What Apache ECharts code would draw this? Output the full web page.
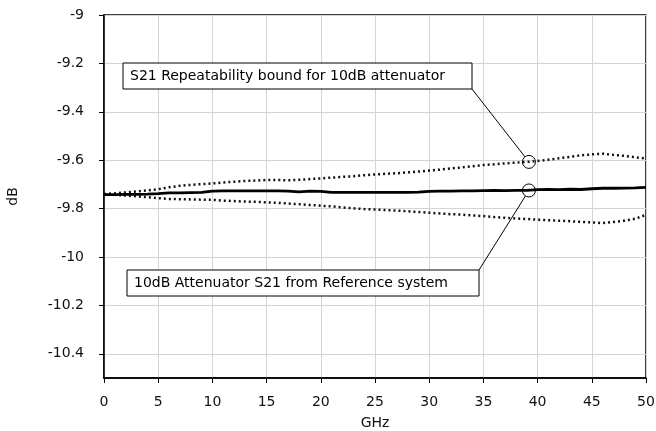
<!DOCTYPE html>
<html><head><meta charset="utf-8">
<script src="https://cdn.jsdelivr.net/npm/echarts@6/dist/echarts.min.js"></script>
<style>html,body{margin:0;padding:0;background:#fff}#c{width:656px;height:431px}</style>
</head><body><div id="c"></div>
<script>
const freqGHz = [0,1,2,3,4,5,6,7,8,9,10,11,12,13,14,15,16,17,18,19,20,21,22,23,24,25,26,27,28,29,30,31,32,33,34,35,36,37,38,39,40,41,42,43,44,45,46,47,48,49,50];
const refS21 = [-9.742,-9.742,-9.741,-9.741,-9.740,-9.738,-9.735,-9.735,-9.734,-9.733,-9.728,-9.727,-9.727,-9.727,-9.727,-9.727,-9.727,-9.728,-9.731,-9.728,-9.729,-9.733,-9.733,-9.733,-9.733,-9.733,-9.733,-9.733,-9.733,-9.732,-9.729,-9.728,-9.728,-9.727,-9.727,-9.726,-9.725,-9.726,-9.725,-9.725,-9.722,-9.721,-9.722,-9.720,-9.721,-9.718,-9.716,-9.716,-9.715,-9.714,-9.712];
const upperBound = [-9.740,-9.737,-9.733,-9.729,-9.725,-9.720,-9.712,-9.706,-9.702,-9.699,-9.696,-9.692,-9.689,-9.686,-9.684,-9.682,-9.682,-9.683,-9.681,-9.678,-9.675,-9.672,-9.669,-9.666,-9.662,-9.659,-9.656,-9.654,-9.650,-9.647,-9.643,-9.639,-9.634,-9.630,-9.625,-9.620,-9.617,-9.613,-9.610,-9.607,-9.603,-9.598,-9.592,-9.586,-9.580,-9.576,-9.573,-9.578,-9.582,-9.588,-9.593];
const lowerBound = [-9.740,-9.743,-9.746,-9.749,-9.753,-9.757,-9.760,-9.761,-9.762,-9.763,-9.764,-9.767,-9.769,-9.771,-9.772,-9.774,-9.776,-9.779,-9.782,-9.785,-9.788,-9.791,-9.795,-9.799,-9.802,-9.804,-9.806,-9.808,-9.811,-9.814,-9.817,-9.820,-9.823,-9.825,-9.828,-9.831,-9.835,-9.838,-9.841,-9.843,-9.846,-9.848,-9.850,-9.852,-9.855,-9.857,-9.860,-9.855,-9.850,-9.842,-9.826];
const xTicks = [0,5,10,15,20,25,30,35,40,45,50];
const yTicks = [-9,-9.2,-9.4,-9.6,-9.8,-10,-10.2,-10.4];
const annotX = 39.2;
const annotBoundY = -9.607;
const annotRefY = -9.725;
const label1 = 'S21 Repeatability bound for 10dB attenuator';
const label2 = '10dB Attenuator S21 from Reference system';

const FONT = '"DejaVu Sans", sans-serif';
const chart = echarts.init(document.getElementById('c'), null, {renderer:'canvas'});
const pair = (ys) => freqGHz.map((f,i)=>[f, ys[i]]);
const option = {
  animation:false,
  backgroundColor:'#fff',
  grid:{left:104,right:10,top:15,bottom:53,outerBoundsMode:'none',containLabel:false,show:true,borderColor:'#000',borderWidth:1.5,backgroundColor:'transparent'},
  xAxis:{type:'value',min:0,max:50,interval:5,
    name:'GHz',nameLocation:'middle',nameGap:38,
    nameTextStyle:{fontFamily:FONT,fontSize:14,color:'#111'},
    axisLine:{show:true,lineStyle:{color:'#000',width:1.5}},
    axisTick:{show:true,length:5,lineStyle:{color:'#000'}},
    axisLabel:{fontFamily:FONT,fontSize:14,color:'#111',margin:17,
      customValues:xTicks},
    splitLine:{show:true,lineStyle:{color:'#d4d4d4',width:1}}},
  yAxis:{type:'value',min:-10.5,max:-9,interval:0.2,
    name:'dB',nameLocation:'middle',nameGap:84,
    nameTextStyle:{fontFamily:FONT,fontSize:14,color:'#111'},
    axisLine:{show:true,lineStyle:{color:'#000',width:1.5}},
    axisTick:{show:true,length:5,lineStyle:{color:'#000'},customValues:yTicks},
    axisLabel:{fontFamily:FONT,fontSize:14,color:'#111',margin:20,customValues:yTicks,
      formatter:(v)=>String(Math.round(v*10)/10)},
    splitLine:{show:true,lineStyle:{color:'#d4d4d4',width:1}}},
  series:[
    {type:'line',name:'upper',data:pair(upperBound),symbol:'none',
      lineStyle:{color:'#111',width:2.5,type:[2,3]}},
    {type:'line',name:'lower',data:pair(lowerBound),symbol:'none',
      lineStyle:{color:'#111',width:2.5,type:[2,3]}},
    {type:'line',name:'ref',data:pair(refS21),symbol:'none',
      lineStyle:{color:'#000',width:2.8}}
  ]
};
chart.setOption(option);

const c1 = chart.convertToPixel({gridIndex:0},[annotX, annotBoundY]);
const c2 = chart.convertToPixel({gridIndex:0},[annotX, annotRefY]);
const R = 6.5;
const box1 = {x:123,y:63,w:349,h:26};
const box2 = {x:127,y:270,w:352,h:26};
function edge(c, p){const dx=p[0]-c[0],dy=p[1]-c[1],d=Math.hypot(dx,dy);return [c[0]+dx/d*R,c[1]+dy/d*R];}
const corner1=[box1.x+box1.w, box1.y+box1.h];
const corner2=[box2.x+box2.w, box2.y];
const e1=edge(c1,corner1), e2=edge(c2,corner2);
chart.setOption({graphic:[
  {type:'line',shape:{x1:corner1[0],y1:corner1[1],x2:e1[0],y2:e1[1]},style:{stroke:'#000',lineWidth:1},z:100},
  {type:'line',shape:{x1:corner2[0],y1:corner2[1],x2:e2[0],y2:e2[1]},style:{stroke:'#000',lineWidth:1},z:100},
  {type:'circle',shape:{cx:c1[0],cy:c1[1],r:R},style:{fill:'none',stroke:'#000',lineWidth:1},z:100},
  {type:'circle',shape:{cx:c2[0],cy:c2[1],r:R},style:{fill:'none',stroke:'#000',lineWidth:1},z:100},
  {type:'rect',shape:{x:box1.x,y:box1.y,width:box1.w,height:box1.h},style:{fill:'#fff',stroke:'#000',lineWidth:1},z:100},
  {type:'text',x:box1.x+7,y:box1.y+box1.h/2,style:{text:label1,fontFamily:FONT,fontSize:14,fill:'#000',verticalAlign:'middle'},z:101},
  {type:'rect',shape:{x:box2.x,y:box2.y,width:box2.w,height:box2.h},style:{fill:'#fff',stroke:'#000',lineWidth:1},z:100},
  {type:'text',x:box2.x+7,y:box2.y+box2.h/2,style:{text:label2,fontFamily:FONT,fontSize:14,fill:'#000',verticalAlign:'middle'},z:101}
]});
</script></body></html>
